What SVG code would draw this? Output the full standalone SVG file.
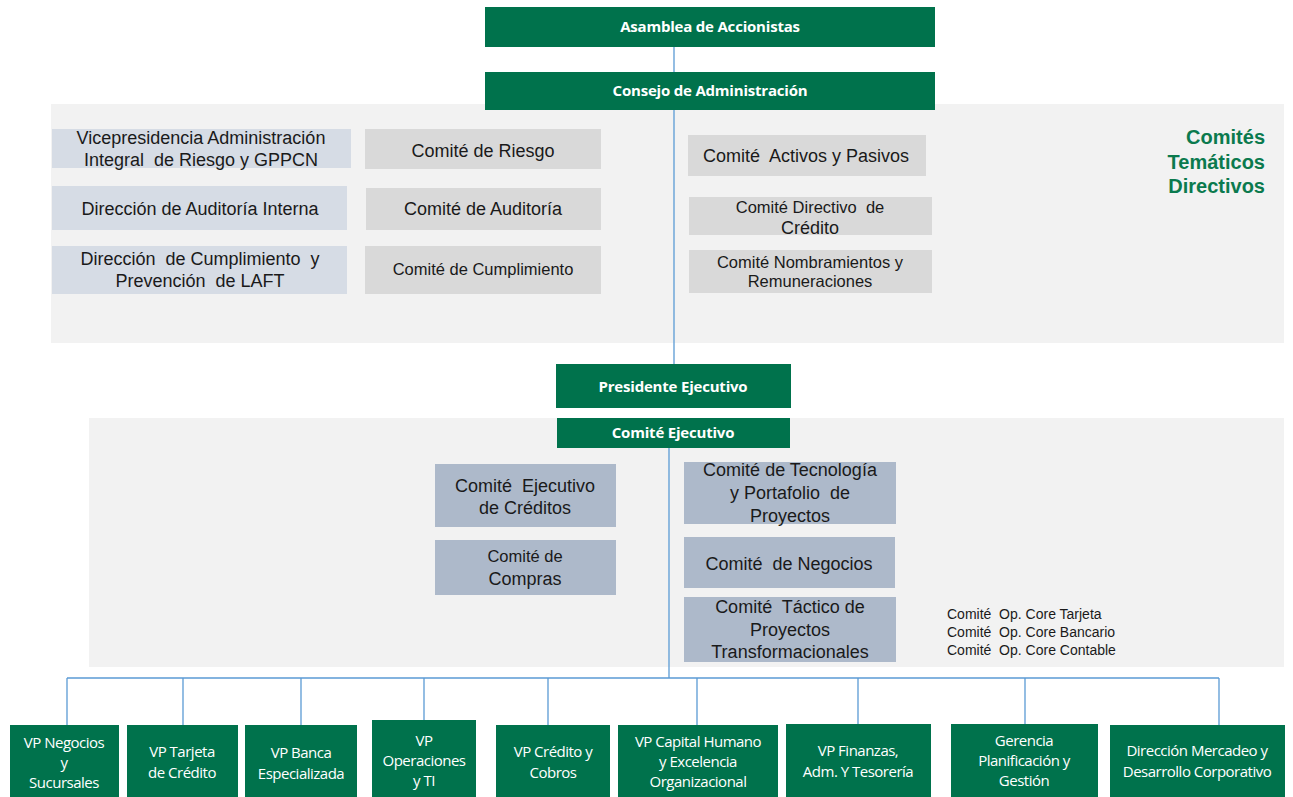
<svg xmlns="http://www.w3.org/2000/svg" width="1293" height="797" viewBox="0 0 1293 797">
<style>
.g{fill:#00724c}
.gt{fill:#fff;font-family:"Open Sans",sans-serif;font-weight:bold;font-size:15px;text-anchor:middle;letter-spacing:-0.2px}
.bt{fill:#fff;font-family:"Open Sans",sans-serif;font-size:15px;text-anchor:middle;letter-spacing:-0.5px}
.lb{fill:#d6dce5}
.gr{fill:#d9d9d9}
.sb{fill:#adb9ca}
.t{fill:#1a1a1a;font-family:"Liberation Sans",Arial,sans-serif;font-size:18px;text-anchor:middle;white-space:pre}
.ts{fill:#1a1a1a;font-family:"Liberation Sans",Arial,sans-serif;font-size:16.5px;text-anchor:middle;white-space:pre}
.op{fill:#1a1a1a;font-family:"Liberation Sans",Arial,sans-serif;font-size:14px;white-space:pre}
.panel{fill:#f2f2f2}
.ln{stroke:#5b9bd5;stroke-width:1.3;fill:none}
</style>
<rect class="panel" x="51" y="104" width="1233" height="239"/>
<rect class="panel" x="89" y="418" width="1195" height="249"/>
<g id="connectors">
<path class="ln" d="M674 47V72M674 110V364M669 448V678M67 678H1219M67 678V725M183 678V725M301 678V725M424 678V720M548 678V725M697 678V725M858 678V724M1025 678V724M1219 678V725"/>
</g>
<g id="asamblea"><rect class="g" x="485" y="7" width="450" height="40"/><text class="gt" x="710" y="32">Asamblea de Accionistas</text></g>
<g id="consejo"><rect class="g" x="485" y="72" width="450" height="38"/><text class="gt" x="710" y="96">Consejo de Administración</text></g>
<g id="vp-riesgo"><rect class="lb" x="52" y="129" width="299" height="39"/><text class="t" x="201" y="144">Vicepresidencia Administración</text><text class="t" x="201" y="166">Integral  de Riesgo y GPPCN</text></g>
<g id="comite-riesgo"><rect class="gr" x="365" y="129" width="236" height="40"/><text class="t" x="483" y="157">Comité de Riesgo</text></g>
<g id="dir-auditoria"><rect class="lb" x="52" y="186" width="295" height="44"/><text class="t" x="200" y="215">Dirección de Auditoría Interna</text></g>
<g id="comite-auditoria"><rect class="gr" x="366" y="188" width="235" height="42"/><text class="t" x="483" y="215">Comité de Auditoría</text></g>
<g id="dir-cumplimiento"><rect class="lb" x="52" y="246" width="295" height="48"/><text class="t" x="200" y="265">Dirección  de Cumplimiento  y</text><text class="t" x="200" y="287">Prevención  de LAFT</text></g>
<g id="comite-cumplimiento"><rect class="gr" x="365" y="246" width="236" height="48"/><text class="ts" x="483" y="275">Comité de Cumplimiento</text></g>
<g id="comite-activos"><rect class="gr" x="688" y="135" width="238" height="41"/><text class="t" x="806" y="162">Comité  Activos y Pasivos</text></g>
<g id="comite-directivo"><rect class="gr" x="689" y="197" width="243" height="38"/><text class="ts" x="810" y="213">Comité Directivo  de</text><text class="t" x="810" y="234">Crédito</text></g>
<g id="comite-nombramientos"><rect class="gr" x="689" y="250" width="243" height="43"/><text class="ts" x="810" y="268">Comité Nombramientos y</text><text class="ts" x="810" y="287">Remuneraciones</text></g>
<g id="titulo-comites" font-family="Liberation Sans,Arial,sans-serif" font-weight="bold" font-size="20" fill="#0b7a4e" text-anchor="end"><text x="1265" y="144">Comités</text><text x="1265" y="169">Temáticos</text><text x="1265" y="193">Directivos</text></g>
<g id="presidente"><rect class="g" x="556" y="364" width="235" height="44"/><text class="gt" x="673" y="392">Presidente Ejecutivo</text></g>
<g id="comite-ejecutivo"><rect class="g" x="557" y="418" width="233" height="30"/><text class="gt" x="673" y="438">Comité Ejecutivo</text></g>
<g id="comite-ejec-creditos"><rect class="sb" x="435" y="464" width="181" height="63"/><text class="t" x="525" y="492">Comité  Ejecutivo</text><text class="t" x="525" y="514">de Créditos</text></g>
<g id="comite-compras"><rect class="sb" x="435" y="540" width="181" height="55"/><text class="ts" x="525" y="562">Comité de</text><text class="t" x="525" y="585">Compras</text></g>
<g id="comite-tecnologia"><rect class="sb" x="684" y="462" width="212" height="62"/><text class="t" x="790" y="476">Comité de Tecnología</text><text class="t" x="790" y="499">y Portafolio  de</text><text class="t" x="790" y="522">Proyectos</text></g>
<g id="comite-negocios"><rect class="sb" x="684" y="537" width="211" height="51"/><text class="t" x="789" y="570">Comité  de Negocios</text></g>
<g id="comite-tactico"><rect class="sb" x="684" y="597" width="212" height="65"/><text class="t" x="790" y="613">Comité  Táctico de</text><text class="t" x="790" y="636">Proyectos</text><text class="t" x="790" y="658">Transformacionales</text></g>
<g id="comites-op"><text class="op" x="947" y="619">Comité  Op. Core Tarjeta</text><text class="op" x="947" y="637">Comité  Op. Core Bancario</text><text class="op" x="947" y="655">Comité  Op. Core Contable</text></g>
<g id="vp-negocios"><rect class="g" x="10" y="725" width="109" height="72"/><text class="bt" x="64" y="748">VP Negocios</text><text class="bt" x="64" y="768">y</text><text class="bt" x="64" y="788">Sucursales</text></g>
<g id="vp-tarjeta"><rect class="g" x="127" y="725" width="111" height="72"/><text class="bt" x="182" y="757">VP Tarjeta</text><text class="bt" x="182" y="778">de Crédito</text></g>
<g id="vp-banca"><rect class="g" x="245" y="725" width="112" height="72"/><text class="bt" x="301" y="758">VP Banca</text><text class="bt" x="301" y="779">Especializada</text></g>
<g id="vp-operaciones"><rect class="g" x="372" y="720" width="104" height="77"/><text class="bt" x="424" y="746">VP</text><text class="bt" x="424" y="766">Operaciones</text><text class="bt" x="424" y="786">y TI</text></g>
<g id="vp-credito"><rect class="g" x="496" y="725" width="114" height="72"/><text class="bt" x="553" y="757">VP Crédito y</text><text class="bt" x="553" y="778">Cobros</text></g>
<g id="vp-capital"><rect class="g" x="618" y="725" width="160" height="72"/><text class="bt" x="698" y="747">VP Capital Humano</text><text class="bt" x="698" y="767">y Excelencia</text><text class="bt" x="698" y="787">Organizacional</text></g>
<g id="vp-finanzas"><rect class="g" x="786" y="724" width="145" height="73"/><text class="bt" x="858" y="756">VP Finanzas,</text><text class="bt" x="858" y="777">Adm. Y Tesorería</text></g>
<g id="gerencia"><rect class="g" x="951" y="724" width="147" height="73"/><text class="bt" x="1024" y="746">Gerencia</text><text class="bt" x="1024" y="766">Planificación y</text><text class="bt" x="1024" y="786">Gestión</text></g>
<g id="dir-mercadeo"><rect class="g" x="1110" y="725" width="175" height="72"/><text class="bt" x="1197" y="756">Dirección Mercadeo y</text><text class="bt" x="1197" y="777">Desarrollo Corporativo</text></g>
</svg>
